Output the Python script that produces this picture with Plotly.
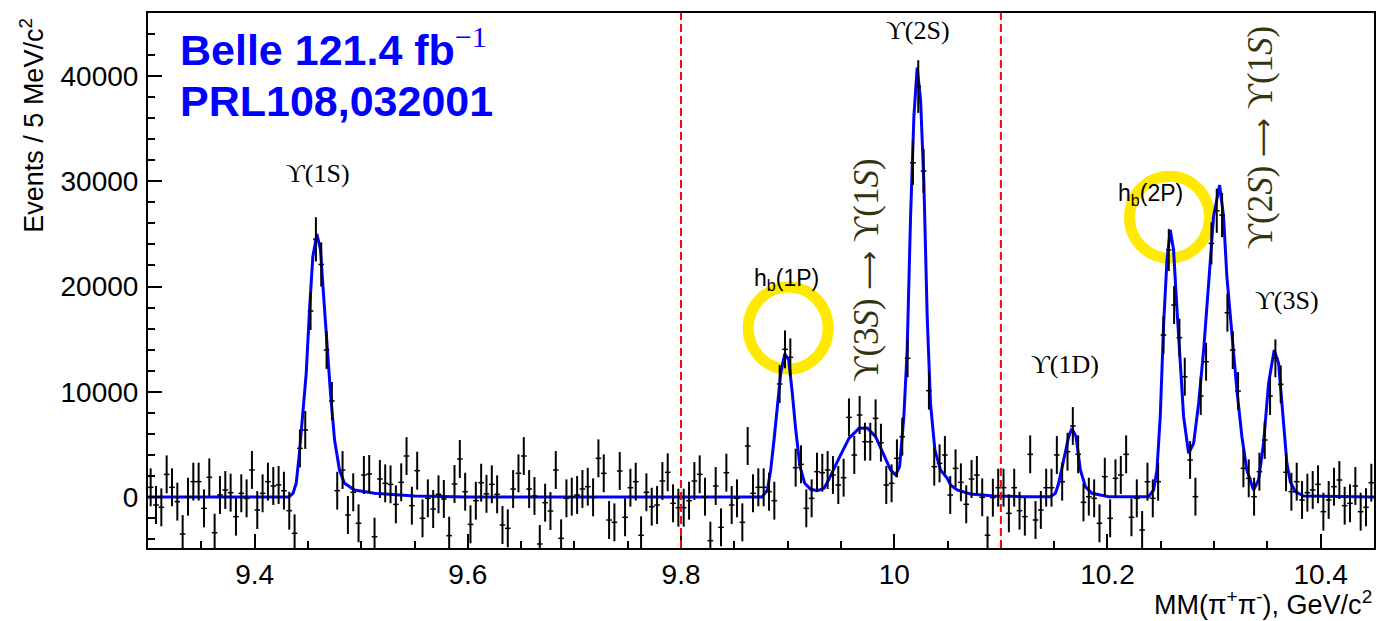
import plotly.graph_objects as go

# ---------------- data ----------------
bin_start = 9.3
bin_width = 0.005

counts = [
    920, -760, -980, 2150, 920, -440, -3520, 30, 1460, 1460,
    -1080, 1870, -3390, 190, 665, 410, -1870, 350, -130, 2570,
    -1240, 350, 1460, 1045, 1140, 600, -1300, -3450, 4620, 6370,
    17670, 24480, 22100, 13970, 9120, 600, 2565, -1710, 445, -2500,
    2090, 2185, -3770, 1710, 1300, 1205, -700, 1395, 3895, -825,
    2500, -2025, -125, -1140, 255, -190, -3675, 1235, 3610, 505,
    -2600, -350, 1360, 300, 1205, 255, -2660, -2975, 760, 2250,
    3895, 760, 95, -4465, -540, -1330, 2565, -3925, -125, 30,
    190, 760, 980, -30, 3675, 2250, -2185, -2405, 2470, -1930,
    885, 1455, -3640, 445, -920, -760, 1520, 2345, -600, -1015,
    -1015, -350, 1520, 2155, 30, -4150, 1045, -2880, 2310, -760,
    -125, -2405, 4845, 350, 920, 920, 505, -350, 10735, 14030,
    13270, 2785, 3105, -1075, -125, 2405, 2310, 2565, 2090, 1140,
    1835, 7570, 3990, 7790, 5255, 5255, 7475, 5160, 1140, 1300,
    3675, 5730, 13180, 31760, 39000, 30975, 10100, 2880, 3200, 3990,
    190, 2725, 1395, -695, 1710, 2090, -30, -3640, -65, 885,
    885, -1550, 885, -1300, -1870, 4055, -2185, -1235, 885, 885,
    3990, 1455, 4305, 6745, 4055, -505, 30, -125, -2500, 1930,
    -2025, 1775, 2090, 4055, -1930, -125, -3135, 1455, -125, 1455,
    15390, 23470, 18240, 15140, 11430, 3515, 30, 9595, 12855, 24100,
    27200, 26790, 17510, 13965, 10070, 2725, 1775, 30, 2405, 5415,
    9595, 13180, 10705, 2350, 505, 1455, -285, 410, 665, 1205,
    -1395, -285, 980, 1615, -825, -600, 1045, -1395, -980, 1360,
]

err_default = 1800
err_peaks = {31: 2100, 32: 2100, 143: 2100, 144: 2500, 145: 2100,
             191: 2000, 199: 2000, 200: 2100, 201: 2100}

fit_x = [
    9.300, 9.432, 9.436, 9.439, 9.442, 9.4453, 9.4484, 9.4515, 9.4546, 9.4584,
    9.4618, 9.465, 9.4681, 9.4712, 9.475, 9.4796, 9.4843, 9.4937, 9.5124, 9.55,
    9.60, 9.876, 9.881, 9.8841, 9.8872, 9.8903, 9.8935, 9.8973, 9.901, 9.9044,
    9.9076, 9.9116, 9.916, 9.9216, 9.9278, 9.9341, 9.9388, 9.9481, 9.9575, 9.9669,
    9.9747, 9.9825, 9.9903, 9.9966, 10.0013, 10.005, 10.009, 10.0121, 10.0153, 10.0184,
    10.0215, 10.0247, 10.0278, 10.0309, 10.034, 10.0381, 10.0434, 10.0496, 10.0528, 10.059,
    10.0715, 10.0933, 10.12, 10.1465, 10.1512, 10.1542, 10.1589, 10.1636, 10.1667, 10.1705,
    10.1746, 10.1793, 10.1855, 10.2011, 10.2386, 10.2433, 10.2464, 10.2495, 10.2527, 10.2558,
    10.2589, 10.262, 10.2651, 10.2683, 10.2714, 10.2761, 10.2808, 10.2855, 10.2902, 10.2949,
    10.2995, 10.3052, 10.3089, 10.312, 10.3167, 10.3214, 10.3261, 10.3307, 10.337, 10.3417,
    10.3464, 10.3511, 10.3564, 10.3605, 10.3652, 10.3683, 10.3715, 10.3762, 10.384, 10.45,
]
fit_y = [
    0, 0, 350, 1300, 4150, 7950, 11750, 17770, 22830, 25000,
    23470, 18720, 13970, 9850, 5415, 2565, 1300, 665, 350, 100,
    0, 0, 665, 2565, 5415, 8580, 11750, 13600, 13015, 9850,
    6365, 2880, 1300, 730, 600, 825, 1700, 3675, 5575, 6525,
    6550, 5730, 3990, 2565, 2090, 2880, 7630, 13965, 26630, 36130,
    40800, 37720, 29800, 17130, 8900, 4465, 2565, 1800, 1140, 665,
    285, 95, 30, 30, 350, 1300, 3515, 5730, 6525, 5730,
    2565, 980, 350, 30, 30, 665, 2565, 7630, 16500, 22520,
    25370, 23470, 18000, 12380, 7630, 4150, 5100, 8900, 13965, 20300,
    26630, 29640, 26630, 20930, 15230, 10165, 5730, 2565, 665, 1615,
    5100, 10800, 13965, 12700, 7000, 3200, 1455, 505, 95, 0,
]

x_ticks = [9.4, 9.6, 9.8, 10.0, 10.2, 10.4]
x_tick_text = ["9.4", "9.6", "9.8", "10", "10.2", "10.4"]
y_ticks = [0, 10000, 20000, 30000, 40000]
y_tick_text = ["0", "10000", "20000", "30000", "40000"]
signal_lines = [9.8, 10.1]

# ---------------- derived ----------------
x_centers = [round(bin_start + bin_width * (i + 0.5), 5) for i in range(len(counts))]
errors = [err_peaks.get(i, err_default) for i in range(len(counts))]

W, H = 1378, 621
L, R, T, B = 148, 2, 13, 73
PW, PH = W - L - R, H - T - B


def px(xp):
    return (xp - L) / PW


def py(yp):
    return (H - B - yp) / PH


fig = go.Figure()

fig.add_trace(go.Scatter(
    x=fit_x, y=fit_y, mode="lines",
    line=dict(color="#0000ff", width=3),
    hoverinfo="skip",
))

fig.add_trace(go.Scatter(
    x=x_centers, y=counts, mode="markers",
    marker=dict(symbol="line-ew-open", size=4, color="black",
                line=dict(color="black", width=1.5)),
    error_y=dict(type="data", array=errors, visible=True,
                 color="black", thickness=2, width=0),
))

shapes = []
for xv in signal_lines:
    shapes.append(dict(type="line", xref="x", yref="paper", x0=xv, x1=xv,
                       y0=0, y1=1, line=dict(color="#ff0000", width=2,
                                             dash="8px,4px"),
                       layer="above"))

yellow = "#ffe900"
for cx, cy in [(9.9005, 16050), (10.2582, 26590)]:
    shapes.append(dict(type="circle", xref="x", yref="y",
                       xsizemode="pixel", ysizemode="pixel",
                       xanchor=cx, yanchor=cy,
                       x0=-40, x1=40, y0=-41, y1=41,
                       line=dict(color=yellow, width=11),
                       layer="below"))

serif = "Liberation Serif, DejaVu Serif, serif"
sans = "Liberation Sans, Arial, sans-serif"

annotations = []


def label(text, xp, yp, size=21, family=serif, color="black", angle=0,
          xanchor="center", yanchor="middle"):
    annotations.append(dict(text=text, xref="paper", yref="paper",
                            x=px(xp), y=py(yp), showarrow=False,
                            xanchor=xanchor, yanchor=yanchor,
                            textangle=angle,
                            font=dict(size=size, family=family, color=color)))


arrow = "<span style='font-family:DejaVu Sans;font-size:27px'>⟶</span>"

label("ϒ(1S)", 318, 173, size=26)
label("h<sub>b</sub>(1P)", 788, 279, size=23, family=sans)
label("ϒ(2S)", 919, 30, size=26)
label("ϒ(1D)", 1066, 364, size=26)
label("h<sub>b</sub>(2P)", 1152, 195, size=23, family=sans)
label("ϒ(3S)", 1289, 300, size=26)

olive = "#34340f"
label("ϒ(3<i>S</i>) " + arrow + " ϒ(1<i>S</i>)", 867, 270, size=35, color=olive, angle=-90)
label("ϒ(2<i>S</i>) " + arrow + " ϒ(1<i>S</i>)", 1262, 138, size=35, color=olive, angle=-90)

label("<b>Belle 121.4 fb</b><sup><span style='font-family:Liberation Serif'>−1</span></sup>",
      178, 47, size=43, family=sans, color="#0000ff", xanchor="left")
label("<b>PRL108,032001</b>", 178, 101, size=43, family=sans,
      color="#0000ff", xanchor="left")

label("Events / 5 MeV/c<sup>2</sup>", 32, 16, size=27, family=sans,
      angle=-90, yanchor="top")
label("MM(π<sup>+</sup>π<sup>-</sup>), GeV/c<sup>2</sup>", 1376, 603, size=27,
      family=sans, xanchor="right")

axis_common = dict(
    showgrid=False, zeroline=False, showline=True, linewidth=2,
    linecolor="black", mirror=True, ticks="inside", ticklen=14,
    tickwidth=1.5, tickcolor="black",
    tickfont=dict(size=28, family=sans, color="black"),
)

fig.update_layout(
    width=W, height=H,
    margin=dict(l=L, r=R, t=T, b=B, pad=0),
    paper_bgcolor="white", plot_bgcolor="white",
    showlegend=False,
    shapes=shapes,
    annotations=annotations,
    xaxis=dict(range=[9.3, 10.45], tickvals=x_ticks, ticktext=x_tick_text,
               minor=dict(dtick=0.05, tick0=9.3, ticks="inside", ticklen=7,
                          tickwidth=1.5, tickcolor="black"),
               ticklabelstandoff=0, **axis_common),
    yaxis=dict(range=[-4846, 45990], tickvals=y_ticks, ticktext=y_tick_text,
               minor=dict(dtick=2000, tick0=0, ticks="inside", ticklen=7,
                          tickwidth=1.5, tickcolor="black"),
               ticklabelstandoff=2, **axis_common),
)

fig.write_html("out.html")
